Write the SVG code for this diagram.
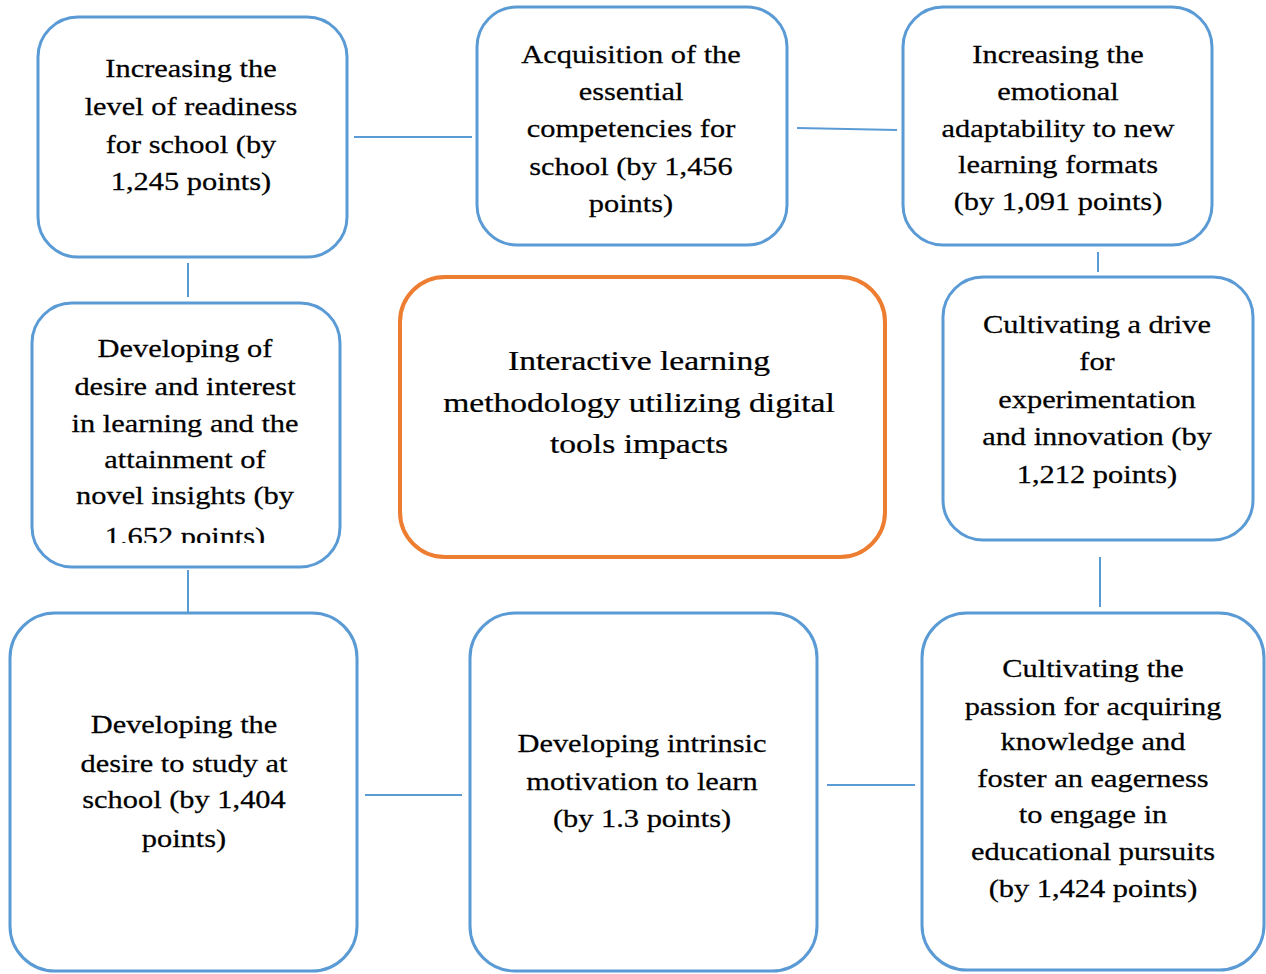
<svg xmlns="http://www.w3.org/2000/svg" width="1266" height="974" viewBox="0 0 1266 974">
<defs>
<style>
.box{fill:#ffffff;stroke:#5B9BD5;stroke-width:3}
.core{fill:#ffffff;stroke:#ED7D31;stroke-width:4}
.con{stroke:#5B9BD5;stroke-width:2;fill:none}
.t{font-family:"Liberation Serif","Times New Roman",serif;font-size:26px;fill:#000000;stroke:#000000;stroke-width:0.25;text-anchor:middle}
.tc{font-family:"Liberation Serif","Times New Roman",serif;font-size:28px;fill:#000000;stroke:#000000;stroke-width:0.25;text-anchor:middle}
</style>
<clipPath id="clip6"><rect x="0" y="300" width="400" height="243"/></clipPath>
</defs>
<rect width="1266" height="974" fill="#ffffff"/>
<g id="connectors">
<line class="con" x1="354" y1="137" x2="472" y2="137"/>
<line class="con" x1="797" y1="128" x2="897" y2="130"/>
<line class="con" x1="1098" y1="252" x2="1098" y2="272"/>
<line class="con" x1="188" y1="263" x2="188" y2="297"/>
<line class="con" x1="188" y1="570" x2="188" y2="613"/>
<line class="con" x1="1100" y1="557" x2="1100" y2="607"/>
<line class="con" x1="365" y1="795" x2="462" y2="795"/>
<line class="con" x1="827" y1="785" x2="915" y2="785"/>
</g>
<g id="n1">
<rect class="box" x="38" y="17" width="309" height="240" rx="40"/>
<g transform="translate(191,0) scale(1.17,1)"><text class="t"><tspan x="0" y="77">Increasing the</tspan><tspan x="0" y="115">level of readiness</tspan><tspan x="0" y="153">for school (by</tspan><tspan x="0" y="190">1,245 points)</tspan></text></g>
</g>
<g id="n2">
<rect class="box" x="477" y="7" width="310" height="238" rx="40"/>
<g transform="translate(631,0) scale(1.17,1)"><text class="t"><tspan x="0" y="63">Acquisition of the</tspan><tspan x="0" y="100">essential</tspan><tspan x="0" y="137">competencies for</tspan><tspan x="0" y="175">school (by 1,456</tspan><tspan x="0" y="212">points)</tspan></text></g>
</g>
<g id="n3">
<rect class="box" x="903" y="7" width="309" height="238" rx="40"/>
<g transform="translate(1058,0) scale(1.17,1)"><text class="t"><tspan x="0" y="63">Increasing the</tspan><tspan x="0" y="100">emotional</tspan><tspan x="0" y="137">adaptability to new</tspan><tspan x="0" y="173">learning formats</tspan><tspan x="0" y="210">(by 1,091 points)</tspan></text></g>
</g>
<g id="n4">
<rect class="box" x="943" y="277" width="310" height="263" rx="40"/>
<g transform="translate(1097,0) scale(1.17,1)"><text class="t"><tspan x="0" y="333">Cultivating a drive</tspan><tspan x="0" y="370">for</tspan><tspan x="0" y="408">experimentation</tspan><tspan x="0" y="445">and innovation (by</tspan><tspan x="0" y="483">1,212 points)</tspan></text></g>
</g>
<g id="center">
<rect class="core" x="400" y="277" width="485" height="280" rx="45"/>
<g transform="translate(639,0) scale(1.2,1)"><text class="tc"><tspan x="0" y="370">Interactive learning</tspan><tspan x="0" y="412">methodology utilizing digital</tspan><tspan x="0" y="453">tools impacts</tspan></text></g>
</g>
<g id="n6">
<rect class="box" x="32" y="303" width="308" height="264" rx="40"/>
<g clip-path="url(#clip6)"><g transform="translate(185,0) scale(1.17,1)"><text class="t"><tspan x="0" y="357">Developing of</tspan><tspan x="0" y="395">desire and interest</tspan><tspan x="0" y="432">in learning and the</tspan><tspan x="0" y="468">attainment of</tspan><tspan x="0" y="504">novel insights (by</tspan><tspan x="0" y="545">1.652 points)</tspan></text></g></g>
</g>
<g id="n7">
<rect class="box" x="10" y="613" width="347" height="358" rx="45"/>
<g transform="translate(184,0) scale(1.17,1)"><text class="t"><tspan x="0" y="733">Developing the</tspan><tspan x="0" y="772">desire to study at</tspan><tspan x="0" y="808">school (by 1,404</tspan><tspan x="0" y="847">points)</tspan></text></g>
</g>
<g id="n8">
<rect class="box" x="470" y="613" width="347" height="358" rx="45"/>
<g transform="translate(642,0) scale(1.17,1)"><text class="t"><tspan x="0" y="752">Developing intrinsic</tspan><tspan x="0" y="790">motivation to learn</tspan><tspan x="0" y="827">(by 1.3 points)</tspan></text></g>
</g>
<g id="n9">
<rect class="box" x="922" y="613" width="342" height="357" rx="45"/>
<g transform="translate(1093,0) scale(1.17,1)"><text class="t"><tspan x="0" y="677">Cultivating the</tspan><tspan x="0" y="715">passion for acquiring</tspan><tspan x="0" y="750">knowledge and</tspan><tspan x="0" y="787">foster an eagerness</tspan><tspan x="0" y="823">to engage in</tspan><tspan x="0" y="860">educational pursuits</tspan><tspan x="0" y="897">(by 1,424 points)</tspan></text></g>
</g>
</svg>
